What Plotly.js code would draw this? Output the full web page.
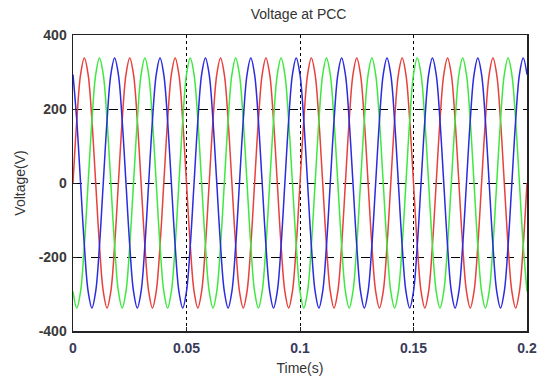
<!DOCTYPE html>
<html>
<head>
<meta charset="utf-8">
<script src="https://cdn.plot.ly/plotly-3.0.1.min.js"></script>
<style>html,body{margin:0;padding:0;background:#fff;}#chart{width:538px;height:381px;}</style>
</head>
<body>
<div id="chart"></div>
<script>
// Sample step: 1/600 s (30 degrees of a 50 Hz wave), starting at t = 0
var timeStart = 0;
var timeStep = 1/600;

var phaseA = [
0,169,293,338,293,169,0,-169,-293,-338,-293,-169,
0,169,293,338,293,169,0,-169,-293,-338,-293,-169,
0,169,293,338,293,169,0,-169,-293,-338,-293,-169,
0,169,293,338,293,169,0,-169,-293,-338,-293,-169,
0,169,293,338,293,169,0,-169,-293,-338,-293,-169,
0,169,293,338,293,169,0,-169,-293,-338,-293,-169,
0,169,293,338,293,169,0,-169,-293,-338,-293,-169,
0,169,293,338,293,169,0,-169,-293,-338,-293,-169,
0,169,293,338,293,169,0,-169,-293,-338,-293,-169,
0,169,293,338,293,169,0,-169,-293,-338,-293,-169,
0];

var phaseB = [
-293,-338,-293,-169,0,169,293,338,293,169,0,-169,
-293,-338,-293,-169,0,169,293,338,293,169,0,-169,
-293,-338,-293,-169,0,169,293,338,293,169,0,-169,
-293,-338,-293,-169,0,169,293,338,293,169,0,-169,
-293,-338,-293,-169,0,169,293,338,293,169,0,-169,
-293,-338,-293,-169,0,169,293,338,293,169,0,-169,
-293,-338,-293,-169,0,169,293,338,293,169,0,-169,
-293,-338,-293,-169,0,169,293,338,293,169,0,-169,
-293,-338,-293,-169,0,169,293,338,293,169,0,-169,
-293,-338,-293,-169,0,169,293,338,293,169,0,-169,
-293];

var phaseC = [
293,169,0,-169,-293,-338,-293,-169,0,169,293,338,
293,169,0,-169,-293,-338,-293,-169,0,169,293,338,
293,169,0,-169,-293,-338,-293,-169,0,169,293,338,
293,169,0,-169,-293,-338,-293,-169,0,169,293,338,
293,169,0,-169,-293,-338,-293,-169,0,169,293,338,
293,169,0,-169,-293,-338,-293,-169,0,169,293,338,
293,169,0,-169,-293,-338,-293,-169,0,169,293,338,
293,169,0,-169,-293,-338,-293,-169,0,169,293,338,
293,169,0,-169,-293,-338,-293,-169,0,169,293,338,
293,169,0,-169,-293,-338,-293,-169,0,169,293,338,
293];

var xTicks = [0, 0.05, 0.1, 0.15, 0.2];
var xTickText = ['0', '0.05', '0.1', '0.15', '0.2'];
var yTicks = [-400, -200, 0, 200, 400];
var yTickText = ['-400', '-200', '0', '200', '400'];

function trace(y, color, name) {
  return {
    type: 'scatter', mode: 'lines', name: name,
    x0: timeStart, dx: timeStep, y: y,
    line: {color: color, width: 1.5, shape: 'spline', smoothing: 1},
    hoverinfo: 'skip'
  };
}

var data = [
  trace(phaseA, '#e8403c', 'Va'),
  trace(phaseB, '#3fe83f', 'Vb'),
  trace(phaseC, '#2b2be0', 'Vc')
];

var fontFam = 'Liberation Sans, Arial, sans-serif';
var layout = {
  width: 538, height: 381,
  margin: {l: 73, r: 11, t: 35, b: 50},
  paper_bgcolor: '#fff', plot_bgcolor: '#fff',
  showlegend: false,
  title: {text: 'Voltage at PCC', x: 0.555, xanchor: 'center', y: 0.975, yanchor: 'top',
          font: {family: fontFam, size: 14, color: '#333'}},
  xaxis: {
    range: [0, 0.2], tickvals: xTicks, ticktext: xTickText,
    showgrid: true, gridcolor: '#000', griddash: 'dot', gridwidth: 1,
    zeroline: false, showline: true, linecolor: '#222', linewidth: 1.5, mirror: true,
    ticks: 'inside', ticklen: 4, tickcolor: '#222', ticklabelstandoff: 4,
    tickfont: {family: fontFam, size: 14, color: '#3a3a5a', weight: 'bold'},
    title: {text: 'Time(s)', font: {family: fontFam, size: 14, color: '#333'}, standoff: 8}
  },
  yaxis: {
    range: [-400, 400], tickvals: yTicks, ticktext: yTickText,
    showgrid: true, gridcolor: '#000', griddash: 'dash', gridwidth: 1,
    zeroline: false, showline: true, linecolor: '#222', linewidth: 1.5, mirror: true,
    ticks: 'inside', ticklen: 4, tickcolor: '#222', ticklabelstandoff: 2,
    tickfont: {family: fontFam, size: 14, color: '#3a3a3a', weight: 'bold'},
    title: {text: 'Voltage(V)', font: {family: fontFam, size: 14, color: '#333'}, standoff: 10}
  }
};

Plotly.newPlot('chart', data, layout, {displayModeBar: false, staticPlot: true});
</script>
</body>
</html>
